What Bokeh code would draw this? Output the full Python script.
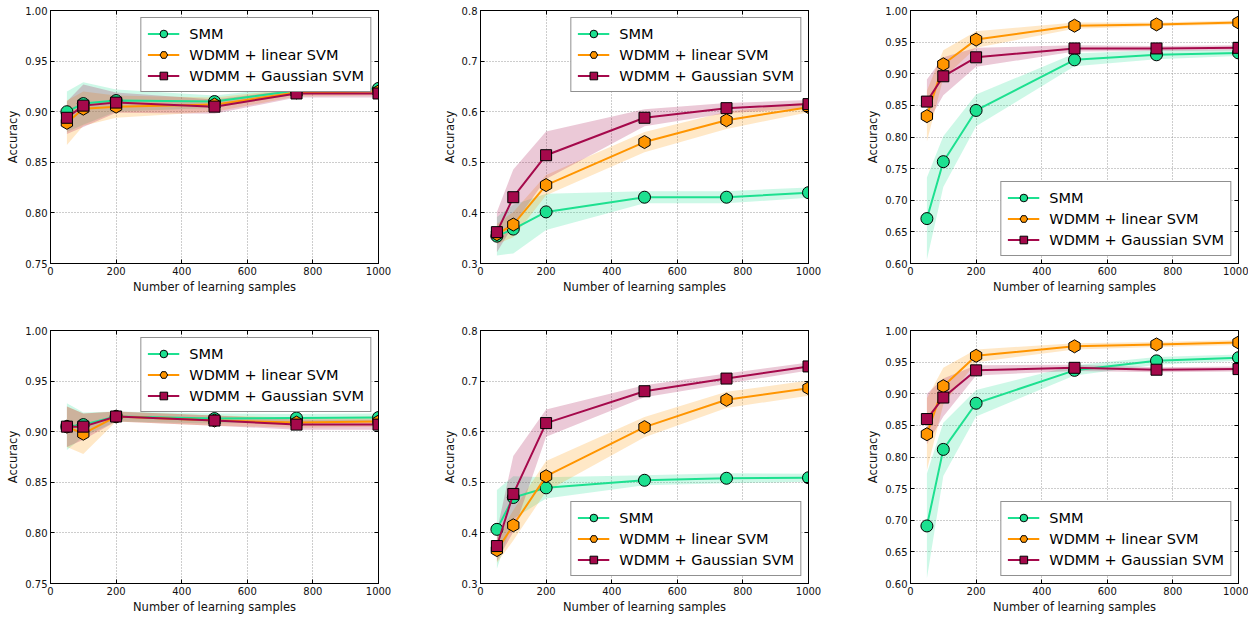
import numpy as np
from bokeh.plotting import figure
from bokeh.models import (FixedTicker, PrintfTickFormatter, LinearAxis, Legend,
                          LegendItem, Range1d)
from bokeh.layouts import row, column
from bokeh.embed import file_html
from bokeh.resources import INLINE

# ---------------- data ----------------
samples = [50, 100, 200, 500, 750, 1000]
series_names = ["SMM", "WDMM + linear SVM", "WDMM + Gaussian SVM"]
x_ticks = [0, 200, 400, 600, 800, 1000]
x_label = "Number of learning samples"
y_label = "Accuracy"

# panel A (top-left)
a_smm = [0.900, 0.908, 0.911, 0.910, 0.921, 0.923]
a_smm_sd = [0.020, 0.021, 0.011, 0.006, 0.004, 0.003]
a_lin = [0.889, 0.903, 0.905, 0.907, 0.919, 0.920]
a_lin_sd = [0.022, 0.017, 0.011, 0.007, 0.004, 0.004]
a_gau = [0.894, 0.906, 0.909, 0.905, 0.918, 0.918]
a_gau_sd = [0.016, 0.021, 0.010, 0.007, 0.004, 0.004]

# panel B (top-middle)
b_smm = [0.354, 0.368, 0.402, 0.431, 0.431, 0.440]
b_smm_sd = [0.038, 0.048, 0.036, 0.012, 0.012, 0.010]
b_lin = [0.358, 0.377, 0.455, 0.540, 0.583, 0.609]
b_lin_sd = [0.020, 0.025, 0.020, 0.020, 0.017, 0.010]
b_gau = [0.362, 0.431, 0.514, 0.588, 0.607, 0.615]
b_gau_sd = [0.040, 0.055, 0.047, 0.017, 0.010, 0.008]

# panel C (top-right)
c_smm = [0.671, 0.761, 0.842, 0.922, 0.930, 0.933]
c_smm_sd = [0.065, 0.040, 0.025, 0.010, 0.007, 0.005]
c_lin = [0.833, 0.915, 0.954, 0.976, 0.978, 0.981]
c_lin_sd = [0.040, 0.022, 0.013, 0.005, 0.003, 0.003]
c_gau = [0.856, 0.896, 0.926, 0.940, 0.940, 0.941]
c_gau_sd = [0.035, 0.030, 0.015, 0.005, 0.004, 0.004]

# panel D (bottom-left)
d_smm = [0.905, 0.907, 0.915, 0.913, 0.9135, 0.914]
d_smm_sd = [0.023, 0.012, 0.005, 0.005, 0.004, 0.004]
d_lin = [0.905, 0.898, 0.915, 0.911, 0.909, 0.910]
d_lin_sd = [0.020, 0.020, 0.005, 0.005, 0.005, 0.005]
d_gau = [0.905, 0.905, 0.915, 0.911, 0.907, 0.907]
d_gau_sd = [0.020, 0.013, 0.005, 0.005, 0.005, 0.005]

# panel E (bottom-middle)
e_smm = [0.407, 0.470, 0.489, 0.504, 0.508, 0.509]
e_smm_sd = [0.078, 0.042, 0.021, 0.010, 0.010, 0.008]
e_lin = [0.366, 0.415, 0.512, 0.609, 0.663, 0.686]
e_lin_sd = [0.025, 0.030, 0.030, 0.020, 0.016, 0.015]
e_gau = [0.374, 0.477, 0.617, 0.680, 0.705, 0.729]
e_gau_sd = [0.030, 0.075, 0.027, 0.012, 0.010, 0.008]

# panel F (bottom-right)
f_smm = [0.691, 0.812, 0.885, 0.937, 0.952, 0.957]
f_smm_sd = [0.083, 0.042, 0.021, 0.008, 0.006, 0.005]
f_lin = [0.836, 0.912, 0.960, 0.975, 0.978, 0.981]
f_lin_sd = [0.057, 0.029, 0.010, 0.005, 0.004, 0.004]
f_gau = [0.860, 0.894, 0.937, 0.941, 0.938, 0.939]
f_gau_sd = [0.040, 0.030, 0.008, 0.005, 0.004, 0.004]

y_ticks_fine = [0.75, 0.80, 0.85, 0.90, 0.95, 1.00]
y_ticks_mid = [0.3, 0.4, 0.5, 0.6, 0.7, 0.8]
y_ticks_high = [0.60, 0.65, 0.70, 0.75, 0.80, 0.85, 0.90, 0.95, 1.00]

# ---------------- style ----------------
FONT = "DejaVu Sans"
COLORS = ["#1DE090", "#FF9500", "#A5094B"]
MARKERS = [("circle", 12, 0.0), ("hex", 13, np.pi / 6), ("square", 11, 0.0)]


def mirror_axis(ticks):
    return LinearAxis(ticker=FixedTicker(ticks=ticks),
                      major_label_text_font_size="0px",
                      major_label_text_color=None,
                      major_label_standoff=0,
                      major_tick_in=4, major_tick_out=0,
                      minor_tick_line_color=None, axis_line_color="black")


def make_panel(series, y_lo, y_hi, y_ticks, y_fmt, legend_loc,
               border_right, border_top, border_bottom):
    p = figure(frame_width=328, frame_height=253,
               x_range=Range1d(0, 1000), y_range=Range1d(y_lo, y_hi),
               output_backend="svg", toolbar_location=None,
               min_border_left=50, min_border_right=border_right,
               min_border_top=border_top, min_border_bottom=border_bottom,
               background_fill_color="white", border_fill_color="white")
    p.outline_line_color = "black"
    p.outline_line_width = 1

    for ax in p.xaxis:
        ax.ticker = FixedTicker(ticks=x_ticks)
        ax.axis_label = x_label
    for ax in p.yaxis:
        ax.ticker = FixedTicker(ticks=y_ticks)
        ax.formatter = PrintfTickFormatter(format=y_fmt)
        ax.axis_label = y_label
    for ax in list(p.xaxis) + list(p.yaxis):
        ax.major_tick_in = 4
        ax.major_tick_out = 0
        ax.minor_tick_line_color = None
        ax.axis_line_color = "black"
        ax.major_tick_line_color = "black"
        ax.major_label_text_font = FONT
        ax.major_label_text_font_size = "10px"
        ax.major_label_text_color = "#111111"
        ax.major_label_standoff = 3
        ax.axis_label_text_font = FONT
        ax.axis_label_text_font_size = "11.5px"
        ax.axis_label_text_font_style = "normal"
        ax.axis_label_text_color = "#111111"
        ax.axis_label_standoff = 2

    # mirrored ticks on top and right
    p.add_layout(mirror_axis(x_ticks), "above")
    p.add_layout(mirror_axis(y_ticks), "right")

    p.xgrid.ticker = FixedTicker(ticks=x_ticks)
    p.ygrid.ticker = FixedTicker(ticks=y_ticks)
    for g in (p.xgrid, p.ygrid):
        g.grid_line_color = "#9a9a9a"
        g.grid_line_dash = "1 2"
        g.grid_line_width = 1

    x = np.array(samples, dtype=float)
    for (mean, sd), col in zip(series, COLORS):
        m = np.array(mean)
        s = np.array(sd)
        p.varea(x=x, y1=m - s, y2=m + s, fill_color=col, fill_alpha=0.22)

    items = []
    for (mean, sd), col, (mk, sz, ang), name in zip(series, COLORS, MARKERS, series_names):
        lr = p.line(x, mean, line_color=col, line_width=2)
        sr = p.scatter(x, mean, marker=mk, size=sz, angle=ang,
                       fill_color=col, line_color="black", line_width=1)
        items.append(LegendItem(label=name, renderers=[lr, sr]))

    legend = Legend(items=items, location=legend_loc,
                    label_text_font=FONT, label_text_font_size="14.5px",
                    label_text_color="black",
                    glyph_width=32, glyph_height=19, label_height=19,
                    label_standoff=10, spacing=2, padding=6, margin=7,
                    border_line_color="#222222", border_line_width=1,
                    background_fill_color="white", background_fill_alpha=1.0)
    p.add_layout(legend)
    return p


pa = make_panel([(a_smm, a_smm_sd), (a_lin, a_lin_sd), (a_gau, a_gau_sd)],
                0.75, 1.00, y_ticks_fine, "%.2f", "top_right", 52, 10, 57)
pb = make_panel([(b_smm, b_smm_sd), (b_lin, b_lin_sd), (b_gau, b_gau_sd)],
                0.3, 0.8, y_ticks_mid, "%.1f", "top_right", 52, 10, 57)
pc = make_panel([(c_smm, c_smm_sd), (c_lin, c_lin_sd), (c_gau, c_gau_sd)],
                0.60, 1.00, y_ticks_high, "%.2f", "bottom_right", 10, 10, 57)
pd_ = make_panel([(d_smm, d_smm_sd), (d_lin, d_lin_sd), (d_gau, d_gau_sd)],
                 0.75, 1.00, y_ticks_fine, "%.2f", "top_right", 52, 10, 28)
pe = make_panel([(e_smm, e_smm_sd), (e_lin, e_lin_sd), (e_gau, e_gau_sd)],
                0.3, 0.8, y_ticks_mid, "%.1f", "bottom_right", 52, 10, 28)
pf = make_panel([(f_smm, f_smm_sd), (f_lin, f_lin_sd), (f_gau, f_gau_sd)],
                0.60, 1.00, y_ticks_high, "%.2f", "bottom_right", 10, 10, 28)

layout = column(row(pa, pb, pc), row(pd_, pe, pf))
open("out.html", "w").write(file_html(layout, INLINE))
